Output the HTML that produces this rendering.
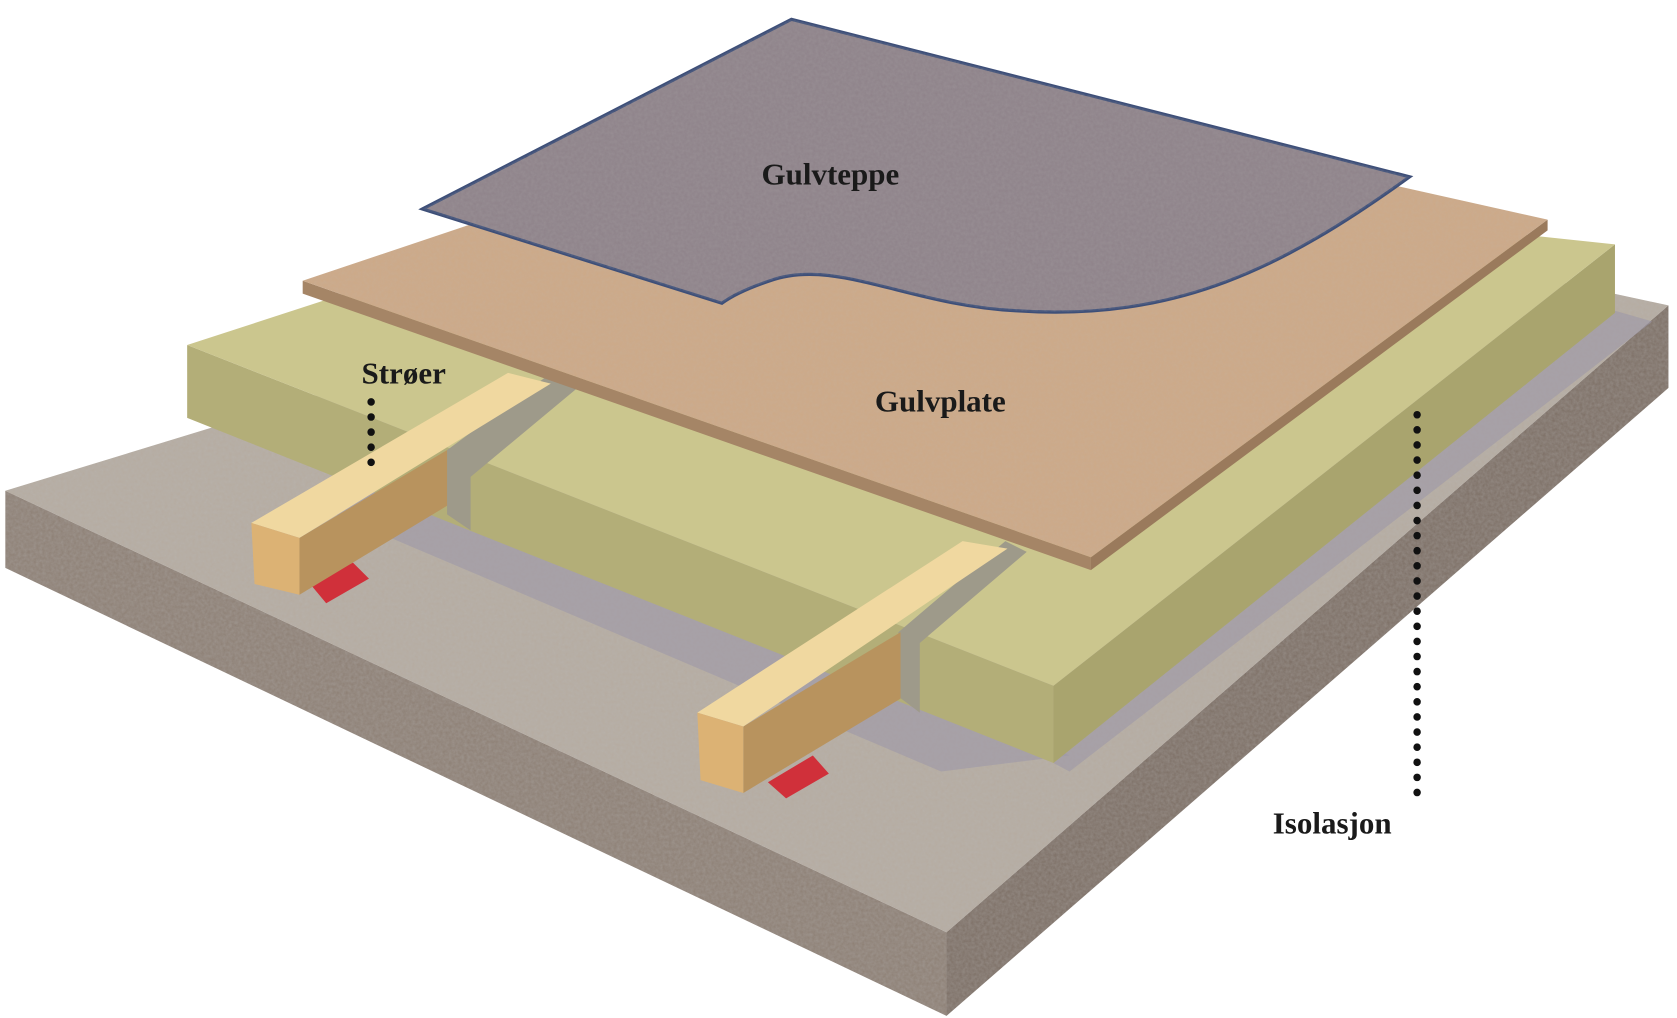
<!DOCTYPE html>
<html><head><meta charset="utf-8"><style>
html,body{margin:0;padding:0;background:#fff;}
svg{display:block;}
text{font-family:"Liberation Serif",serif;font-weight:bold;fill:#1a1a1a;font-size:29px;}
</style></head><body>
<svg width="1677" height="1018" viewBox="0 0 1568 950" preserveAspectRatio="none">
<defs>
<filter id="n" x="0" y="0" width="100%" height="100%">
<feTurbulence type="fractalNoise" baseFrequency="0.35" numOctaves="3" seed="3"/>
<feColorMatrix type="matrix" values="0 0 0 0 0.5  0 0 0 0 0.5  0 0 0 0 0.5  0 0 0 0.35 0"/>
<feComposite in2="SourceGraphic" operator="in"/>
</filter>
</defs>
<polygon points="5,458 885,870 885,948 5,530" fill="#8d7f74"/>
<polygon points="885,870 1560,285 1560,362 885,948" fill="#7d6f65"/>
<polygon points="5,458 980,160 1560,285 885,870" fill="#b5aba0"/>
<polygon points="5,458 885,870 885,948 5,530" filter="url(#n)" fill="#000"/>
<polygon points="885,870 1560,285 1560,362 885,948" filter="url(#n)" fill="#000"/>
<polygon points="5,458 980,160 1560,285 885,870" filter="url(#n)" fill="#000"/>
<polygon points="290,470 430,440 1000,705 880,720" fill="#9c97a8" opacity="0.6"/>
<polygon points="985,712 1510,290 1545,300 1000,720" fill="#9c97a8" opacity="0.6"/>
<polygon points="175,322 985,640 985,712 175,390" fill="#b3ae78"/>
<polygon points="985,640 1510,228 1510,292 985,712" fill="#a9a46e"/>
<polygon points="175,322 720,145 1510,228 985,640" fill="#cbc68e"/>
<polygon points="418,420 510,352 540,362 440,445 440,495 418,480" fill="#9e9a8a"/>
<polygon points="840,590 940,505 960,515 860,600 860,665 840,650" fill="#9e9a8a"/>
<polygon points="290,545 330,525 345,540 305,563" fill="#d0303a"/>
<polygon points="718,730 760,705 775,722 735,745" fill="#d0303a"/>
<polygon points="280,502 418,420 418,472 280,555" fill="#b8935e"/>
<polygon points="235,488 475,348 515,358 280,502" fill="#f0d8a0"/>
<polygon points="235,488 280,502 280,555 238,545" fill="#dcb274"/>
<polygon points="695,678 842,590 842,652 695,740" fill="#b8935e"/>
<polygon points="652,665 900,505 942,512 695,678" fill="#f0d8a0"/>
<polygon points="652,665 695,678 695,740 655,728" fill="#dcb274"/>
<polygon points="283,262 1020,520 1020,532 283,274" fill="#a58566"/>
<polygon points="1020,520 1447,205 1447,215 1020,532" fill="#9a7a5c"/>
<polygon points="283,262 850,72 1447,205 1020,520" fill="#cda987"/>
<polygon points="283,262 850,72 1447,205 1020,520" filter="url(#n)" fill="#000" opacity="0.5"/>
<path d="M395,195 L740,18 L1318,165 C1200,250 1100,300 950,290 C850,285 780,240 720,262 Q690,272 675,283 Z" fill="#8e8289" stroke="#3e4f78" stroke-width="3"/>
<path d="M395,195 L740,18 L1318,165 C1200,250 1100,300 950,290 C850,285 780,240 720,262 Q690,272 675,283 Z" filter="url(#n)" fill="#000" opacity="0.6"/>
<text x="712" y="172">Gulvteppe</text>
<text x="818" y="384">Gulvplate</text>
<text x="338" y="358">Strøer</text>
<text x="1190" y="778">Isolasjon</text>
<line x1="347" y1="375" x2="347" y2="436" stroke="#111" stroke-width="7" stroke-linecap="round" stroke-dasharray="0.1,14"/>
<line x1="1325" y1="387" x2="1325" y2="745" stroke="#111" stroke-width="7" stroke-linecap="round" stroke-dasharray="0.1,14"/>
</svg>
</body></html>
